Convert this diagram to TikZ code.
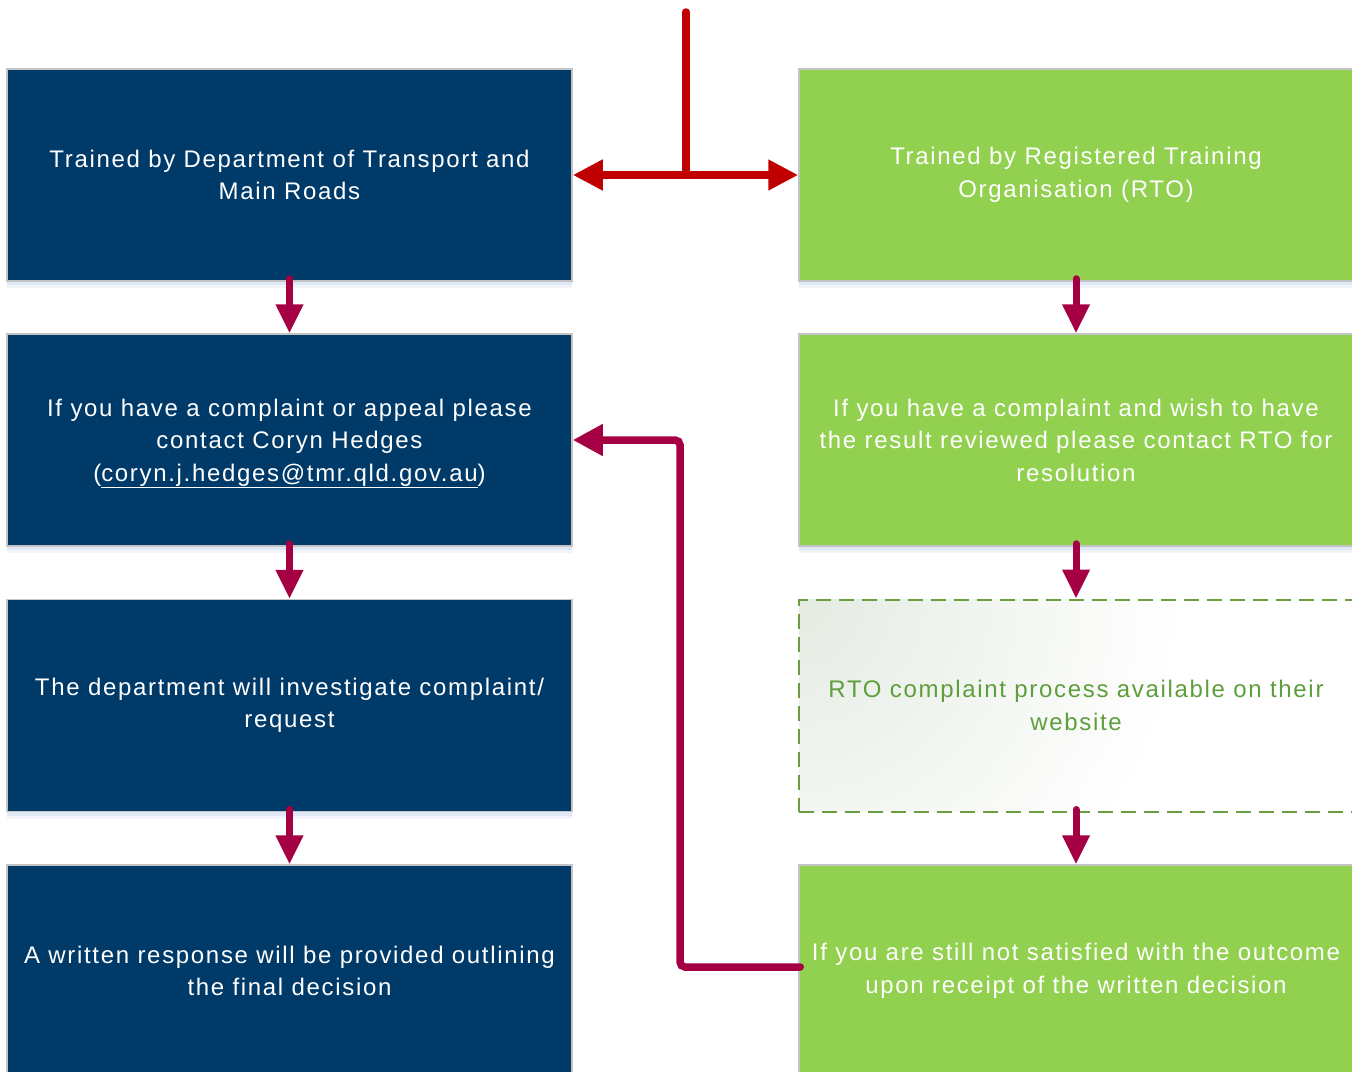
\documentclass[tikz,border=0pt]{standalone}
\usepackage{fontspec}
\setmainfont{Liberation Sans}[LetterSpace=7]
\usetikzlibrary{arrows.meta}
\definecolor{navy}{HTML}{003A68}
\definecolor{lgreen}{HTML}{92D050}
\definecolor{maroon}{HTML}{A50044}
\definecolor{redarr}{HTML}{C00000}
\definecolor{dashgreen}{HTML}{6A9E3F}
\definecolor{dashtext}{HTML}{5F9E3C}
\definecolor{dashfill}{HTML}{E4EBE2}
\definecolor{boxgrey}{HTML}{C4C4C4}
\definecolor{shadowblue}{HTML}{C9D8EE}
\pgfdeclareradialshading{cornerglow}{\pgfpoint{0bp}{0bp}}{color(0bp)=(dashfill); color(16bp)=(white); color(50bp)=(white)}
\tikzset{
  txt/.style={font=\fontsize{24}{32.5}\selectfont, align=center},
  shadowed/.style={
    preaction={fill=shadowblue, opacity=0.25, transform canvas={yshift=-7pt}},
    preaction={fill=shadowblue, opacity=0.45, transform canvas={yshift=-4pt}}},
  leftbox/.style={txt, shadowed, rectangle, fill=navy, draw=boxgrey, line width=1.5pt,
    text=white, minimum width=565pt, minimum height=212pt, inner sep=0pt},
  rightbox/.style={txt, shadowed, rectangle, fill=lgreen, draw=boxgrey, line width=1.5pt,
    text=white, minimum width=554pt, minimum height=212pt, inner sep=0pt},
  dashbox/.style={txt, rectangle, draw=dashgreen, line width=2pt, dash pattern=on 15pt off 8pt,
    fill=white,
    path picture={\shade[shading=cornerglow]
      ([xshift=-600pt,yshift=-600pt]path picture bounding box.north west) rectangle
      ([xshift=600pt,yshift=600pt]path picture bounding box.north west);},
    text=dashtext, minimum width=554pt, minimum height=212pt, inner sep=0pt},
  downarrow/.style={draw=maroon, line width=7pt, line cap=round,
    -{Triangle[width=26pt,length=29pt]}},
  fbarrow/.style={draw=maroon, line width=7.5pt, line cap=round, rounded corners=5pt,
    -{Triangle[width=30pt,length=30pt]}},
  redline/.style={draw=redarr, line width=7.5pt, line cap=round},
  redarrow/.style={draw=redarr, line width=7.5pt,
    {Triangle[width=29pt,length=30pt]}-{Triangle[width=29pt,length=30pt]}},
}
\begin{document}
\begin{tikzpicture}[x=1pt,y=-1pt]
\useasboundingbox (0,0) rectangle (1352,1071);
\clip (0,0) rectangle (1352,1071);

% left column
\node[leftbox] (l1) at (289.5,175) {Trained by Department of Transport and\\Main Roads};
\node[leftbox] (l2) at (289.5,440) {If you have a complaint or appeal please\\contact Coryn Hedges\\\raisebox{0pt}[\height][0pt]{(\underline{coryn.j.hedges@tmr.qld.gov.au})}};
\node[leftbox] (l3) at (289.5,705.5) {The department will investigate complaint/\\request};
\node[leftbox] (l4) at (289.5,971) {A written response will be provided outlining\\the final decision};

% right column
\node[rightbox] (r1) at (1076,175) {Trained by Registered Training\\Organisation (RTO)};
\node[rightbox] (r2) at (1076,440) {If you have a complaint and wish to have\\the result reviewed please contact RTO for\\resolution};
\node[dashbox] (r3) at (1076,705.5) {RTO complaint process available on their\\website};
\node[rightbox] (r4) at (1076,971) {If you are still not satisfied with the outcome\\upon receipt of the written decision};

% down arrows
\draw[downarrow] ([yshift=3pt]l1.south) -- (l2.north);
\draw[downarrow] ([yshift=3pt]l2.south) -- (l3.north);
\draw[downarrow] ([yshift=3pt]l3.south) -- (l4.north);
\draw[downarrow] ([yshift=3pt]r1.south) -- (r2.north);
\draw[downarrow] ([yshift=3pt]r2.south) -- (r3.north);
\draw[downarrow] ([yshift=3pt]r3.south) -- (r4.north);

% top split arrow
\coordinate (top) at (686,12);
\coordinate (junc) at (686,175);
\draw[redline] (top) -- (junc);
\draw[redarrow] (l1.east) -- (r1.west);

% feedback arrow
\coordinate (fb1) at (680,967);
\coordinate (fb2) at (680,440);
\draw[fbarrow] ([xshift=2pt,yshift=4pt]r4.west) -- (fb1) -- (fb2) -- (l2.east);
\end{tikzpicture}
\end{document}
